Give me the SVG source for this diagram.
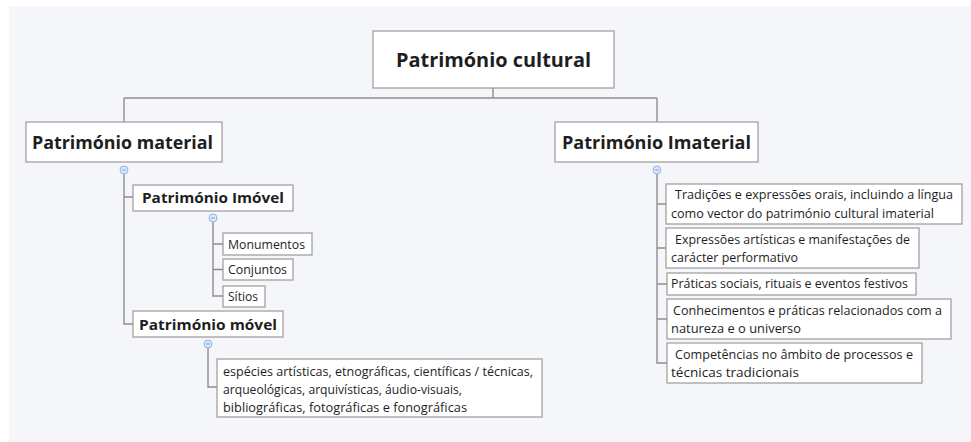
<svg xmlns="http://www.w3.org/2000/svg" width="971" height="442" viewBox="0 0 971 442">
<style>
.bx{fill:#ffffff;stroke:#9a9a9a;stroke-width:1.2}
.t{font-family:"Open Sans","Liberation Sans",sans-serif;fill:#1e1e1e}
.b{font-weight:bold}
.c{fill:none;stroke:#8e8e8e;stroke-width:1.4}
.m{fill:#dbe7f7;stroke:#94b6e2;stroke-width:1}
.mm{stroke:#6f95cc;stroke-width:0.8}
</style>
<rect x="9" y="6" width="962" height="436" fill="#f5f6fa"/>
<g id="connectors">
<path class="c" d="M493,88 V98 M124,98 H657 M124,98 V122 M657,98 V122"/>
<path class="c" d="M124,174 V324 H133 M124,197 H133"/>
<path class="c" d="M213,222 V296 H223 M213,244 H223 M213,269.5 H223"/>
<path class="c" d="M208,348 V387 H217"/>
<path class="c" d="M657,174 V363 H667 M657,204 H666 M657,248 H666 M657,284 H667 M657,319 H667"/>
<circle class="m" cx="124" cy="170" r="4"/><path class="mm" d="M122,170 H126"/>
<circle class="m" cx="213" cy="218" r="4"/><path class="mm" d="M211,218 H215"/>
<circle class="m" cx="208" cy="344" r="4"/><path class="mm" d="M206,344 H210"/>
<circle class="m" cx="657" cy="170" r="4"/><path class="mm" d="M655,170 H659"/>
</g>
<g id="root">
<rect class="bx" x="373" y="31" width="241" height="57"/>
<text class="t b" x="396" y="67" font-size="20" textLength="195" lengthAdjust="spacingAndGlyphs">Património cultural</text>
</g>
<g id="material">
<rect class="bx" x="26" y="122" width="196" height="40"/>
<text class="t b" x="32" y="149" font-size="18" textLength="181" lengthAdjust="spacingAndGlyphs">Património material</text>
</g>
<g id="imaterial">
<rect class="bx" x="555" y="122" width="203" height="40"/>
<text class="t b" x="562" y="149" font-size="18" textLength="189" lengthAdjust="spacingAndGlyphs">Património Imaterial</text>
</g>
<g id="imovel">
<rect class="bx" x="133" y="185" width="160" height="26"/>
<text class="t b" x="142" y="203" font-size="15" textLength="142" lengthAdjust="spacingAndGlyphs">Património Imóvel</text>
</g>
<g id="monumentos">
<rect class="bx" x="223" y="233" width="89" height="22"/>
<text class="t" x="228" y="248.5" font-size="12.5" textLength="77" lengthAdjust="spacingAndGlyphs">Monumentos</text>
</g>
<g id="conjuntos">
<rect class="bx" x="223" y="259" width="70" height="21"/>
<text class="t" x="228" y="274" font-size="12.5" textLength="59" lengthAdjust="spacingAndGlyphs">Conjuntos</text>
</g>
<g id="sitios">
<rect class="bx" x="223" y="286" width="42" height="21"/>
<text class="t" x="228" y="301" font-size="12.5" textLength="30" lengthAdjust="spacingAndGlyphs">Sítios</text>
</g>
<g id="movel">
<rect class="bx" x="133" y="311" width="150" height="26"/>
<text class="t b" x="139" y="330" font-size="15" textLength="138" lengthAdjust="spacingAndGlyphs">Património móvel</text>
</g>
<g id="especies">
<rect class="bx" x="217" y="359" width="325" height="58"/>
<text class="t" x="223" y="376" font-size="12.5" textLength="310" lengthAdjust="spacingAndGlyphs">espécies artísticas, etnográficas, científicas / técnicas,</text>
<text class="t" x="223" y="394" font-size="12.5" textLength="239" lengthAdjust="spacingAndGlyphs">arqueológicas, arquivísticas, áudio-visuais,</text>
<text class="t" x="223" y="412" font-size="12.5" textLength="244" lengthAdjust="spacingAndGlyphs">bibliográficas, fotográficas e fonográficas</text>
</g>
<g id="tradicoes">
<rect class="bx" x="666" y="184" width="296" height="40"/>
<text class="t" x="675" y="199" font-size="12.5" textLength="278" lengthAdjust="spacingAndGlyphs">Tradições e expressões orais, incluindo a língua</text>
<text class="t" x="671" y="218" font-size="12.5" textLength="263" lengthAdjust="spacingAndGlyphs">como vector do património cultural imaterial</text>
</g>
<g id="expressoes">
<rect class="bx" x="666" y="228" width="253" height="40"/>
<text class="t" x="675" y="244" font-size="12.5" textLength="235" lengthAdjust="spacingAndGlyphs">Expressões artísticas e manifestações de</text>
<text class="t" x="671" y="262" font-size="12.5" textLength="127" lengthAdjust="spacingAndGlyphs">carácter performativo</text>
</g>
<g id="praticas">
<rect class="bx" x="667" y="273" width="249" height="22"/>
<text class="t" x="671" y="288" font-size="12.5" textLength="237" lengthAdjust="spacingAndGlyphs">Práticas sociais, rituais e eventos festivos</text>
</g>
<g id="conhecimentos">
<rect class="bx" x="667" y="299" width="284" height="40"/>
<text class="t" x="673" y="315" font-size="12.5" textLength="269" lengthAdjust="spacingAndGlyphs">Conhecimentos e práticas relacionados com a</text>
<text class="t" x="671" y="333" font-size="12.5" textLength="130" lengthAdjust="spacingAndGlyphs">natureza e o universo</text>
</g>
<g id="competencias">
<rect class="bx" x="667" y="343" width="255" height="40"/>
<text class="t" x="675" y="359" font-size="12.5" textLength="238" lengthAdjust="spacingAndGlyphs">Competências no âmbito de processos e</text>
<text class="t" x="671" y="377" font-size="12.5" textLength="128" lengthAdjust="spacingAndGlyphs">técnicas tradicionais</text>
</g>
</svg>
